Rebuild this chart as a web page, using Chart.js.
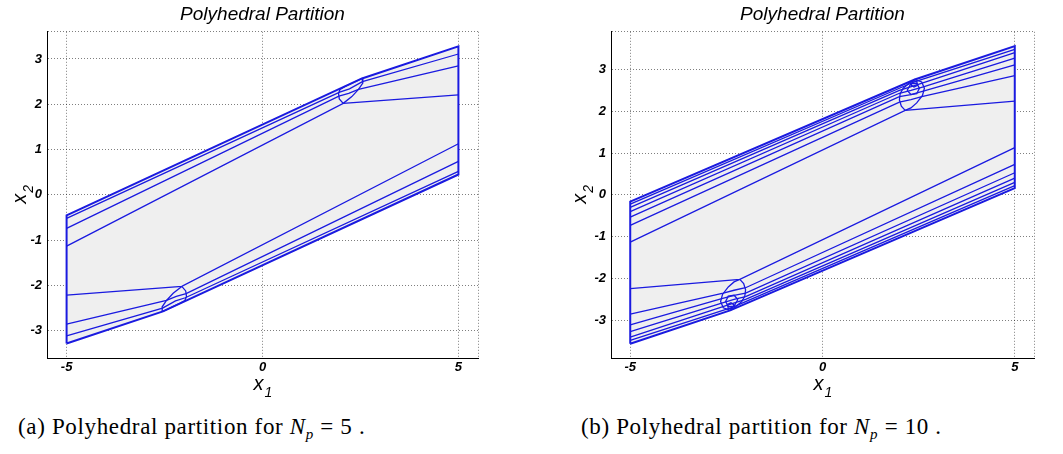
<!DOCTYPE html>
<html>
<head>
<meta charset="utf-8">
<script src="https://cdn.jsdelivr.net/npm/chart.js@4.4.1/dist/chart.umd.min.js"></script>
<style>
body { margin: 0; width: 1063px; height: 454px; background: #fff; position: relative; overflow: hidden; }
canvas { position: absolute; top: 0; }
#chartA { left: 0; }
#chartB { left: 564px; }
.caption { position: absolute; top: 414px; font-family: "Liberation Serif", serif; font-size: 23px; letter-spacing: 0.65px; white-space: nowrap; color: #000; }
.caption sub { font-size: 15px; font-style: italic; vertical-align: -5px; line-height: 0; }
</style>
</head>
<body>
<canvas id="chartA" width="500" height="400"></canvas>
<canvas id="chartB" width="500" height="400"></canvas>
<div class="caption" style="left:18px">(a) Polyhedral partition for <i>N</i><sub>p</sub> = 5 .</div>
<div class="caption" style="left:581px">(b) Polyhedral partition for <i>N</i><sub>p</sub> = 10 .</div>
<script>
// tick labels shared by both plots
var xTicks = [-5, 0, 5];
var yTicks = [-3, -2, -1, 0, 1, 2, 3];

// (a) Np = 5 : outer region and region edges, [x1, x2] pairs
var outlineA = [[-5, -3.28], [-2.54, -2.57], [5, 0.45], [5, 3.28], [2.54, 2.57], [-5, -0.45], [-5, -3.28]];
var upperLinesA = [
    [[-5, -0.52], [1.97, 2.27], [2.22, 2.34], [2.55, 2.5], [5, 3.11]],
    [[-5, -0.74], [1.95, 2.18], [2.2, 2.24], [2.45, 2.33], [5, 2.85]],
    [[-5, -1.13], [2.06, 2.02], [5, 2.21]]
];
var lowerLinesA = [
    [[5, 0.52], [-1.97, -2.27], [-2.22, -2.34], [-2.55, -2.5], [-5, -3.11]],
    [[5, 0.74], [-1.95, -2.18], [-2.2, -2.24], [-2.45, -2.33], [-5, -2.85]],
    [[5, 1.13], [-2.06, -2.02], [-5, -2.21]]
];
var ovalsA = [
    [[2.06, 2.02], [1.96, 2.12], [1.94, 2.24], [1.98, 2.33], [2.1, 2.39], [2.3, 2.47], [2.54, 2.57], [2.56, 2.47], [2.45, 2.33], [2.28, 2.17], [2.06, 2.02]],
    [[-2.06, -2.02], [-1.96, -2.12], [-1.94, -2.24], [-1.98, -2.33], [-2.1, -2.39], [-2.3, -2.47], [-2.54, -2.57], [-2.56, -2.47], [-2.45, -2.33], [-2.28, -2.17], [-2.06, -2.02]]
];

// (b) Np = 10
var outlineB = [[-5, -3.56], [-2.4, -2.76], [5, 0.16], [5, 3.56], [2.4, 2.76], [-5, -0.16], [-5, -3.56]];
var upperLinesB = [
    [[-5, -0.22], [2.0, 2.55], [2.3, 2.67], [2.45, 2.72], [5, 3.48]],
    [[-5, -0.30], [2.0, 2.5], [2.35, 2.6], [2.55, 2.66], [5, 3.40]],
    [[-5, -0.40], [2.0, 2.43], [2.3, 2.5], [2.6, 2.58], [5, 3.27]],
    [[-5, -0.53], [2.0, 2.35], [2.3, 2.4], [2.62, 2.48], [5, 3.11]],
    [[-5, -0.73], [2.0, 2.22], [2.3, 2.28], [2.58, 2.35], [5, 2.85]],
    [[-5, -1.13], [2.15, 2.02], [5, 2.24]]
];
var lowerLinesB = [
    [[5, 0.22], [-2.0, -2.55], [-2.3, -2.67], [-2.45, -2.72], [-5, -3.48]],
    [[5, 0.30], [-2.0, -2.5], [-2.35, -2.6], [-2.55, -2.66], [-5, -3.40]],
    [[5, 0.40], [-2.0, -2.43], [-2.3, -2.5], [-2.6, -2.58], [-5, -3.27]],
    [[5, 0.53], [-2.0, -2.35], [-2.3, -2.4], [-2.62, -2.48], [-5, -3.11]],
    [[5, 0.73], [-2.0, -2.22], [-2.3, -2.28], [-2.58, -2.35], [-5, -2.85]],
    [[5, 1.13], [-2.15, -2.02], [-5, -2.24]]
];
var ovalsB = [
    [[2.15, 2.02], [2.05, 2.12], [2.0, 2.27], [2.02, 2.42], [2.1, 2.55], [2.25, 2.67], [2.4, 2.76], [2.58, 2.7], [2.65, 2.55], [2.6, 2.38], [2.45, 2.2], [2.3, 2.08], [2.15, 2.02]],
    [[2.2, 2.5], [2.3, 2.4], [2.45, 2.42], [2.52, 2.55], [2.45, 2.67], [2.3, 2.66], [2.2, 2.5]],
    [[2.3, 2.63], [2.38, 2.58], [2.47, 2.62], [2.45, 2.72], [2.35, 2.72], [2.3, 2.63]],
    [[-2.15, -2.02], [-2.05, -2.12], [-2.0, -2.27], [-2.02, -2.42], [-2.1, -2.55], [-2.25, -2.67], [-2.4, -2.76], [-2.58, -2.7], [-2.65, -2.55], [-2.6, -2.38], [-2.45, -2.2], [-2.3, -2.08], [-2.15, -2.02]],
    [[-2.2, -2.5], [-2.3, -2.4], [-2.45, -2.42], [-2.52, -2.55], [-2.45, -2.67], [-2.3, -2.66], [-2.2, -2.5]],
    [[-2.3, -2.63], [-2.38, -2.58], [-2.47, -2.62], [-2.45, -2.72], [-2.35, -2.72], [-2.3, -2.63]]
];

var BLUE = '#1a1ae0';
var FILL = '#efefef';
var GRID = 'rgba(0, 0, 0, 0.5)';
var FONT = '"Liberation Sans", Arial, sans-serif';
var tickFont = { family: FONT, size: 13, style: 'italic', weight: 'bold' };

function toPoints(pairs) {
    return pairs.map(function (p) { return { x: p[0], y: p[1] }; });
}

// x with a subscript, centred on (cx, cy) = centre of the "x" glyph
function drawSubLabel(ctx, sub, cx, cy) {
    ctx.font = 'italic 20px ' + FONT;
    var w1 = ctx.measureText('x').width;
    ctx.font = 'italic 14px ' + FONT;
    var w2 = ctx.measureText(sub).width;
    var left = cx - (w1 + w2) / 2;
    ctx.font = 'italic 20px ' + FONT;
    ctx.fillText('x', left, cy + 5);
    ctx.font = 'italic 14px ' + FONT;
    ctx.fillText(sub, left + w1 + 1, cy + 12);
}

var axisLabels = {
    id: 'axisLabels',
    afterDraw: function (chart) {
        var opts = chart.options.plugins.axisLabels;
        var ctx = chart.ctx;
        var area = chart.chartArea;
        ctx.save();
        ctx.fillStyle = '#000';
        ctx.textBaseline = 'alphabetic';
        drawSubLabel(ctx, '1', (area.left + area.right) / 2, area.bottom + opts.xOffset);
        ctx.translate(area.left - opts.yOffset, (area.top + area.bottom) / 2);
        ctx.rotate(-Math.PI / 2);
        drawSubLabel(ctx, '2', 0, 0);
        ctx.restore();
    }
};

function createPartitionChart(canvasId, outline, groups, yLimit, rightPad, yLabelOffset) {
    var datasets = [{
        data: toPoints(outline),
        borderColor: BLUE,
        borderWidth: 2,
        backgroundColor: FILL,
        fill: 'shape',
        order: 1
    }];
    groups.forEach(function (lines) {
        lines.forEach(function (line) {
            datasets.push({ data: toPoints(line), borderColor: BLUE, borderWidth: 1.3, fill: false, order: 0 });
        });
    });

    const ctx = document.getElementById(canvasId).getContext('2d');
    new Chart(ctx, {
        type: 'line',
        data: { datasets: datasets },
        plugins: [axisLabels],
        options: {
            responsive: false,
            animation: false,
            events: [],
            layout: { padding: { left: 0, right: rightPad, top: 0, bottom: 0 } },
            elements: {
                point: { radius: 0 },
                line: { tension: 0 }
            },
            scales: {
                x: {
                    type: 'linear',
                    min: -5.5,
                    max: 5.5,
                    afterBuildTicks: function (scale) {
                        scale.ticks = [-5.5].concat(xTicks, [5.5]).map(function (v) { return { value: v }; });
                    },
                    afterFit: function (scale) { scale.height = 42; },
                    ticks: {
                        autoSkip: false, maxRotation: 0, padding: 2, color: '#000', font: tickFont,
                        callback: function (v) { return xTicks.indexOf(v) >= 0 ? String(v) : ''; }
                    },
                    grid: { color: GRID, lineWidth: 1, drawTicks: false },
                    border: { display: true, color: '#000', width: 1, dash: [1, 2] }
                },
                y: {
                    type: 'linear',
                    min: -yLimit,
                    max: yLimit,
                    afterBuildTicks: function (scale) {
                        scale.ticks = [-yLimit].concat(yTicks, [yLimit]).map(function (v) { return { value: v }; });
                    },
                    afterFit: function (scale) { scale.width = 47; },
                    ticks: {
                        autoSkip: false, padding: 5, color: '#000', font: tickFont,
                        callback: function (v) { return yTicks.indexOf(v) >= 0 ? String(v) : ''; }
                    },
                    grid: { color: GRID, lineWidth: 1, drawTicks: false },
                    border: { display: true, color: '#000', width: 1, dash: [1, 2] }
                }
            },
            plugins: {
                legend: { display: false },
                tooltip: { enabled: false },
                filler: { drawTime: 'beforeDatasetsDraw' },
                title: {
                    display: true,
                    text: 'Polyhedral Partition',
                    fullSize: false,
                    color: '#000',
                    font: { family: FONT, size: 19, style: 'italic', weight: 'normal' },
                    padding: { top: 3, bottom: 6 }
                },
                axisLabels: { xOffset: 27, yOffset: yLabelOffset }
            }
        }
    });
}

createPartitionChart('chartA', outlineA, [upperLinesA, lowerLinesA, ovalsA], 3.6, 22, 26);
createPartitionChart('chartB', outlineB, [upperLinesB, lowerLinesB, ovalsB], 3.9, 30, 30);
</script>
</body>
</html>
